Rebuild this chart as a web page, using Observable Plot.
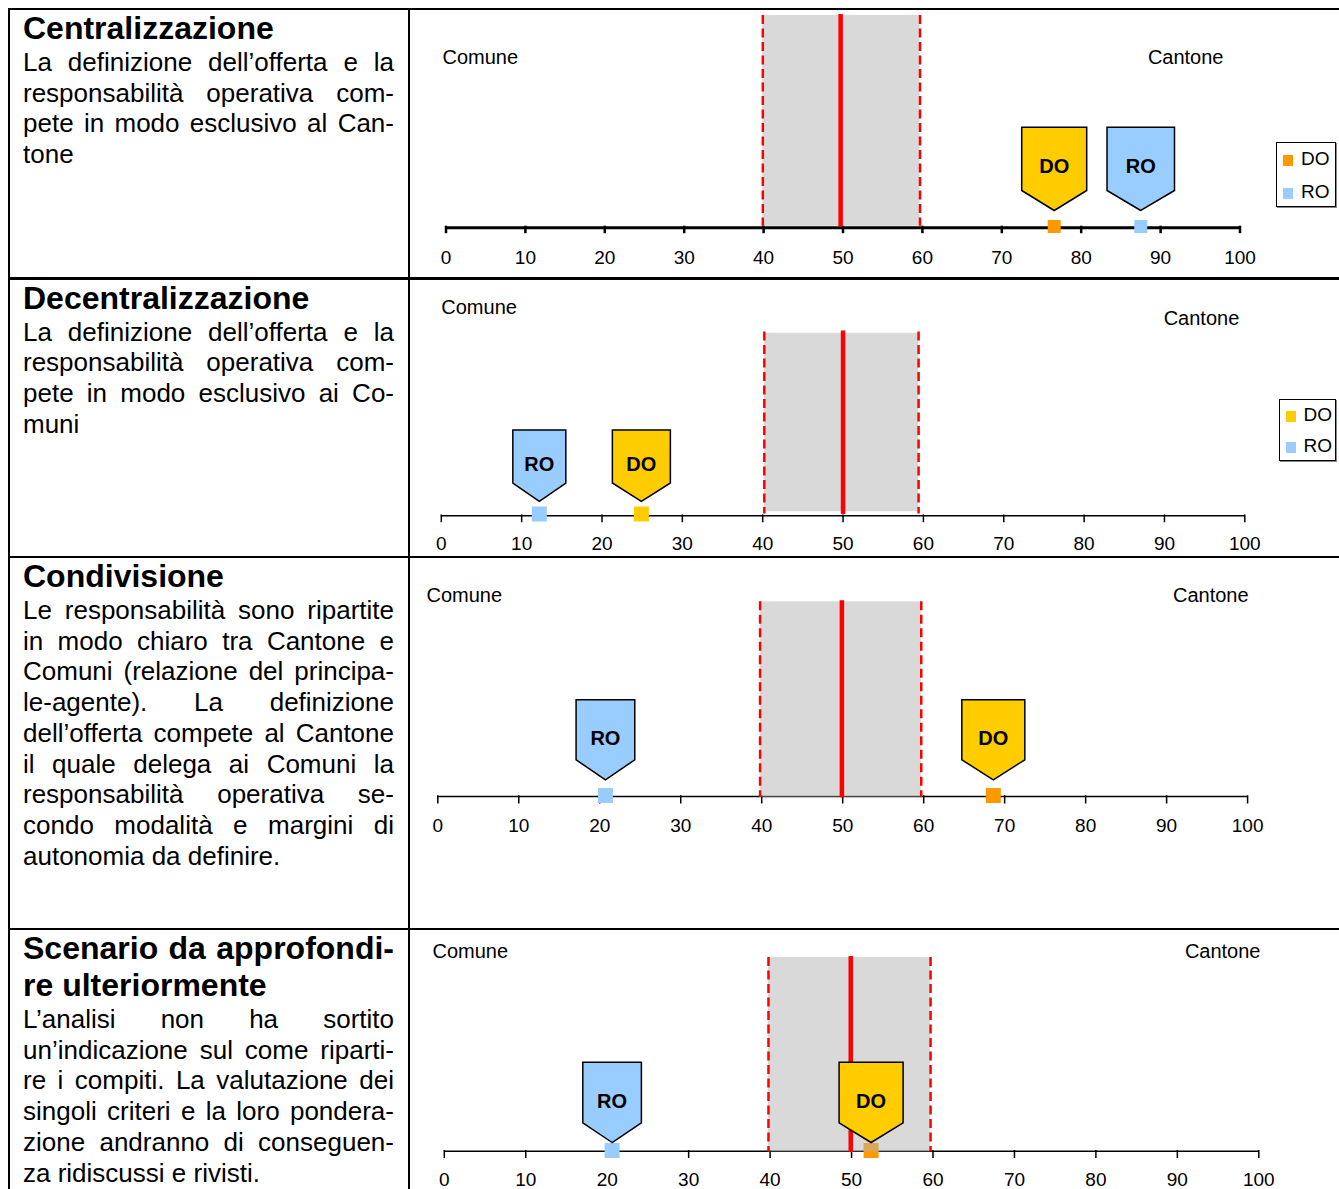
<!DOCTYPE html>
<html>
<head>
<meta charset="utf-8">
<script src="https://cdn.jsdelivr.net/npm/d3@7"></script>
<script src="https://cdn.jsdelivr.net/npm/@observablehq/plot@0.6"></script>
<style>
  html, body { margin: 0; padding: 0; background: #fff; }
  #page { position: relative; width: 1339px; height: 1189px; overflow: hidden;
          font-family: "Liberation Sans", Arial, sans-serif; color: #000; }
  .hl { position: absolute; left: 7.5px; right: 0; height: 2.5px; background: #000; z-index: 5; }
  .vl { position: absolute; top: 7.5px; bottom: 0; width: 2.5px; background: #000; z-index: 5; }
  .cell { position: absolute; left: 23px; width: 371px; }
  .ln { white-space: nowrap; text-align: justify; text-align-last: justify; }
  .ln.last { text-align: left; text-align-last: left; }
  .title .ln { font-weight: bold; font-size: 32px; line-height: 37px; }
  .body .ln { font-size: 26px; line-height: 30.7px; }
  .chart { position: absolute; left: 410px; width: 929px; }
  .chart svg { display: block; overflow: visible; }
  .legend { position: absolute; border: 1.5px solid #000; background: #fff; box-sizing: border-box; z-index: 4;
            box-shadow: 1px 1px 0 #888; }
  .legend .item { position: absolute; left: 6px; font-size: 19px; line-height: 19px; white-space: nowrap; }
  .legend .sw { display: inline-block; width: 10px; height: 11px; margin-right: 8px; vertical-align: -1px; }
</style>
</head>
<body>
<div id="page"></div>
<script>
// ---------------- DATA ----------------
const scenarioTitles = [
  ["Centralizzazione"],
  ["Decentralizzazione"],
  ["Condivisione"],
  ["Scenario da approfondi-", "re ulteriormente"]
];
const scenarioTexts = [
  ["La definizione dell’offerta e la", "responsabilità operativa com-", "pete in modo esclusivo al Can-", "tone"],
  ["La definizione dell’offerta e la", "responsabilità operativa com-", "pete in modo esclusivo ai Co-", "muni"],
  ["Le responsabilità sono ripartite", "in modo chiaro tra Cantone e", "Comuni (relazione del principa-",
   "le-agente). La definizione", "dell’offerta compete al Cantone", "il quale delega ai Comuni la",
   "responsabilità operativa se-", "condo modalità e margini di", "autonomia da definire."],
  ["L’analisi non ha sortito", "un’indicazione sul come riparti-", "re i compiti. La valutazione dei",
   "singoli criteri e la loro pondera-", "zione andranno di conseguen-", "za ridiscussi e rivisti."]
];
const seriesNames = ["DO", "RO"];
const doValues = [76.6, 24.9, 68.6, 52.4];
const roValues = [87.5, 12.2, 20.7, 20.6];
const bandLow = [39.9, 40.2, 39.8, 39.8];
const bandHigh = [59.7, 59.4, 59.7, 59.7];
const midValues = [49.7, 50, 49.9, 49.9];
const axisTicks = [0, 10, 20, 30, 40, 50, 60, 70, 80, 90, 100];
const endLabels = ["Comune", "Cantone"];
const showLegend = [true, true, false, false];

// ---------------- STYLE / LAYOUT ----------------
const colors = {
  doPenta: "#FFCC00", roPenta: "#99CCFF",
  doSquare: ["#FF9900", "#FFCC00", "#FF9900", "#FF9900"], roSquare: "#99CCFF",
  band: "#b3b3b3", red: "#FF0000"
};
const rows = [
  {top: 10,    h: 267,   x0: 445.5, x100: 1239.5, axis: 217.2, axisW: 3,   tickW: 2.5, tickLen: 6,
   bandTop: 5,    bandBot: 215.7, redTop: 5,    redBot: 215.7,
   penTop: 116.7, shoulder: 180,  tip: 200,  penW: [65, 67.5], label: 155.7, sq: 216, sqSide: 13,
   tickLabel: 247, comune: {y: 47, dx: -3.5}, cantone: {y: 47, dx: -16.5},
   legend: {left: 1276, top: 142, w: 60, h: 65, y: [17, 49.7]}},
  {top: 279.5, h: 276,   x0: 440.8, x100: 1244.3, axis: 235.2, axisW: 1.5, tickW: 1.5, tickLen: 7,
   bandTop: 52.8, bandBot: 231.2, redTop: 51.5, redBot: 233.5,
   penTop: 149.5, shoulder: 202.5, tip: 220.8, penW: [58, 53], label: 184.2, sq: 233.5, sqSide: 15,
   tickLabel: 263.5, comune: {y: 27.5, dx: 0}, cantone: {y: 38.5, dx: -5.5},
   legend: {left: 1278.5, top: 399, w: 57, h: 62, y: [15.7, 47.3]}},
  {top: 558,   h: 369.5, x0: 437.3, x100: 1247.1, axis: 238,   axisW: 1.5, tickW: 1.5, tickLen: 7.5,
   bandTop: 43.3, bandBot: 238.8, redTop: 43.3, redBot: 238.8,
   penTop: 141.3, shoulder: 201.3, tip: 221.3, penW: [63, 58.7], label: 179.7, sq: 237, sqSide: 15,
   tickLabel: 267, comune: {y: 37, dx: -11.3}, cantone: {y: 37, dx: 1}},
  {top: 930,   h: 259,   x0: 443.8, x100: 1258.3, axis: 220.7, axisW: 1.5, tickW: 1.5, tickLen: 7.3,
   bandTop: 27,   bandBot: 221.5, redTop: 27,   redBot: 221.5,
   penTop: 131.7, shoulder: 192.3, tip: 212, penW: [64, 58.6], label: 170.7, sq: 220, sqSide: 15,
   tickLabel: 249, comune: {y: 21, dx: -11.8}, cantone: {y: 21, dx: 1.7}}
];
const borderTops = [7.5, 277, 555.5, 927.5];

// custom symbols
function pentagonSymbol(w, triH, rectH) {
  return {
    draw(ctx) {
      const hw = w / 2;
      ctx.moveTo(0, 0);
      ctx.lineTo(-hw, -triH);
      ctx.lineTo(-hw, -triH - rectH);
      ctx.lineTo(hw, -triH - rectH);
      ctx.lineTo(hw, -triH);
      ctx.closePath();
    }
  };
}
function squareSymbol(s) {
  return { draw(ctx) { ctx.rect(-s / 2, -s / 2, s, s); } };
}

const page = document.getElementById("page");

// table borders
borderTops.forEach(t => {
  const d = document.createElement("div"); d.className = "hl"; d.style.top = t + "px"; page.appendChild(d);
});
[7.5, 407.5].forEach(l => {
  const d = document.createElement("div"); d.className = "vl"; d.style.left = l + "px"; page.appendChild(d);
});

rows.forEach((L, i) => {
  // ----- left text cell -----
  const cell = document.createElement("div");
  cell.className = "cell";
  cell.style.top = L.top + "px";
  const tdiv = document.createElement("div"); tdiv.className = "title";
  scenarioTitles[i].forEach((s, k, arr) => {
    const ln = document.createElement("div");
    ln.className = "ln" + (k === arr.length - 1 ? " last" : "");
    ln.textContent = s; tdiv.appendChild(ln);
  });
  const bdiv = document.createElement("div"); bdiv.className = "body";
  scenarioTexts[i].forEach((s, k, arr) => {
    const ln = document.createElement("div");
    ln.className = "ln" + (k === arr.length - 1 ? " last" : "");
    ln.textContent = s; bdiv.appendChild(ln);
  });
  cell.appendChild(tdiv); cell.appendChild(bdiv);
  page.appendChild(cell);

  // ----- chart -----
  const series = [
    {name: seriesNames[0], value: doValues[i], penFill: colors.doPenta, sqFill: colors.doSquare[i], w: L.penW[0]},
    {name: seriesNames[1], value: roValues[i], penFill: colors.roPenta, sqFill: colors.roSquare, w: L.penW[1]}
  ];
  const band = [{lo: bandLow[i], hi: bandHigh[i]}];
  const marks = [
    Plot.ruleY([L.axis], {y: d => d, x1: () => 0, x2: () => 100, stroke: "#000", strokeWidth: L.axisW}),
    Plot.ruleX(axisTicks, {x: d => d, y1: () => L.axis - L.axisW / 2, y2: () => L.axis + L.tickLen,
                           stroke: "#000", strokeWidth: L.tickW}),
    Plot.text(axisTicks, {x: d => d, y: () => L.tickLabel, text: d => String(d), fontSize: 19, fill: "#000"}),
    ...series.map(s => Plot.dot([s], {x: "value", y: () => L.sq, symbol: squareSymbol(L.sqSide),
                                      fill: s.sqFill, stroke: "none"})),
    Plot.rect(band, {x1: "lo", x2: "hi", y1: () => L.bandTop, y2: () => L.bandBot,
                     fill: colors.band, fillOpacity: 0.5}),
    Plot.ruleX(band.flatMap(b => [b.lo, b.hi]), {x: d => d, y1: () => L.redTop, y2: () => L.redBot,
                     stroke: colors.red, strokeWidth: 2.5, strokeDasharray: "9,4.5"}),
    Plot.ruleX([midValues[i]], {x: d => d, y1: () => L.redTop - 1, y2: () => L.redBot + 0.5,
                     stroke: colors.red, strokeWidth: 4.5}),
    ...series.map(s => Plot.dot([s], {x: "value", y: () => L.tip,
                     symbol: pentagonSymbol(s.w, L.tip - L.shoulder, L.shoulder - L.penTop),
                     fill: s.penFill, stroke: "#000", strokeWidth: 1.5})),
    Plot.text(series, {x: "value", y: () => L.label, text: "name", fontWeight: "bold", fontSize: 20, fill: "#000"}),
    Plot.text([endLabels[0]], {x: () => 0, y: () => L.comune.y, text: d => d, textAnchor: "start",
                     dx: L.comune.dx, fontSize: 20, fill: "#000"}),
    Plot.text([endLabels[1]], {x: () => 100, y: () => L.cantone.y, text: d => d, textAnchor: "end",
                     dx: L.cantone.dx, fontSize: 20, fill: "#000"})
  ];
  const svg = Plot.plot({
    width: 929, height: L.h,
    marginTop: 0, marginRight: 0, marginBottom: 0, marginLeft: 0,
    x: {domain: [0, 100], range: [L.x0 - 410, L.x100 - 410], axis: null},
    y: {domain: [0, L.h], range: [0, L.h], axis: null},
    style: {fontFamily: "'Liberation Sans', Arial, sans-serif", background: "transparent", overflow: "visible"},
    marks
  });
  const wrap = document.createElement("div");
  wrap.className = "chart";
  wrap.style.top = L.top + "px";
  wrap.style.height = L.h + "px";
  wrap.appendChild(svg);
  page.appendChild(wrap);

  // ----- legend -----
  if (showLegend[i]) {
    const g = L.legend;
    const lg = document.createElement("div");
    lg.className = "legend";
    Object.assign(lg.style, {left: g.left + "px", top: g.top + "px", width: g.w + "px", height: g.h + "px"});
    series.forEach((s, k) => {
      const it = document.createElement("div");
      it.className = "item";
      it.style.top = (g.y[k] - 9.5 - 1.5) + "px";
      const sw = document.createElement("span");
      sw.className = "sw"; sw.style.background = s.sqFill;
      it.appendChild(sw);
      it.appendChild(document.createTextNode(s.name));
      lg.appendChild(it);
    });
    page.appendChild(lg);
  }
});
</script>
</body>
</html>
